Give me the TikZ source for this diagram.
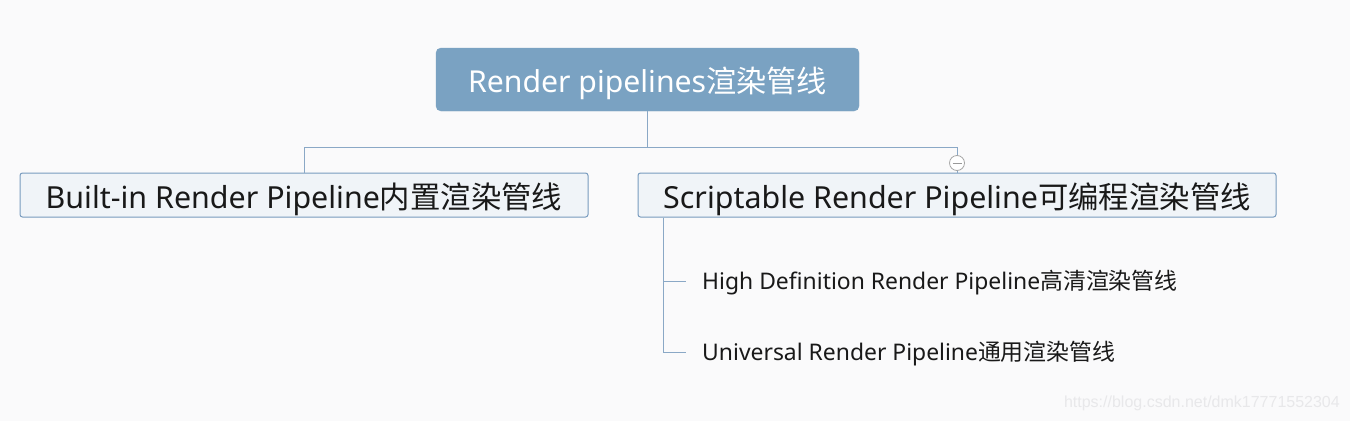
\documentclass[tikz,border=0pt]{standalone}
\usepackage{fontspec}
\setmainfont{Noto Sans}
\newfontfamily\cjk{Noto Sans CJK SC}
\newfontfamily\wm{Liberation Sans}
\definecolor{bg}{RGB}{250,250,251}
\definecolor{rootfill}{RGB}{122,162,194}
\definecolor{linec}{RGB}{138,168,198}
\definecolor{childfill}{RGB}{240,244,248}
\definecolor{boxline}{RGB}{120,155,190}
\definecolor{wmc}{RGB}{232,232,234}
\newcommand{\dn}[2]{\raisebox{-#1pt}[\height][\depth]{#2}}
\begin{document}
\begin{tikzpicture}[x=1pt,y=-1pt,
  rootbox/.style={draw=rootfill,fill=rootfill,rounded corners=5pt,text=white,minimum width=423pt,minimum height=63pt,inner sep=0pt,font=\fontsize{30.2}{34}\selectfont},
  childbox/.style={draw=boxline,line width=1pt,fill=childfill,rounded corners=2.5pt,minimum height=44pt,inner sep=0pt,font=\fontsize{30.4}{34}\selectfont,text=black!90},
  leaf/.style={anchor=west,inner xsep=16pt,inner ysep=0pt,font=\fontsize{22.9}{26}\selectfont,text=black!90},
  conn/.style={draw=linec,line width=1pt}]
\fill[bg] (0,0) rectangle (1350,421);
\useasboundingbox (0,0) rectangle (1350,421);
\node[rootbox] (root) at (647.5,79.5) {\dn{4}{Render pipelines{\cjk 渲染管线}}};
\node[childbox,minimum width=568pt] (left) at (304,195) {\dn{4}{Built-in Render Pipeline{\cjk 内置渲染管线}}};
\node[childbox,minimum width=638pt] (right) at (957,195) {\dn{4}{Scriptable Render Pipeline{\cjk 可编程渲染管线}}};
\node[leaf] (hdrp) at (686,281) {\dn{2}{High Definition Render Pipeline{\cjk 高清渲染管线}}};
\node[leaf] (urp) at (686,352) {\dn{2}{Universal Render Pipeline{\cjk 通用渲染管线}}};
\coordinate (bar) at (0,147);
\coordinate (sub) at ([xshift=26pt]right.south west);
\draw[conn] (root.south) -- (root.south |- bar) -| (left.north);
\draw[conn] (root.south |- bar) -| (right.north);
\draw[conn] (sub) |- (hdrp.west);
\draw[conn] (sub) |- (urp.west);
\node[circle,draw=gray!70,fill=white,line width=0.8pt,minimum size=15pt,inner sep=0pt] (col) at (957,163) {};
\draw[gray!80,line width=1pt] ([xshift=-4.5pt]col.center) -- ([xshift=4.5pt]col.center);
\node[anchor=east,inner sep=0pt,text=wmc,font=\wm\fontsize{16}{18}\selectfont] (wmark) at (1340,403) {https://blog.csdn.net/dmk17771552304};
\end{tikzpicture}
\end{document}
